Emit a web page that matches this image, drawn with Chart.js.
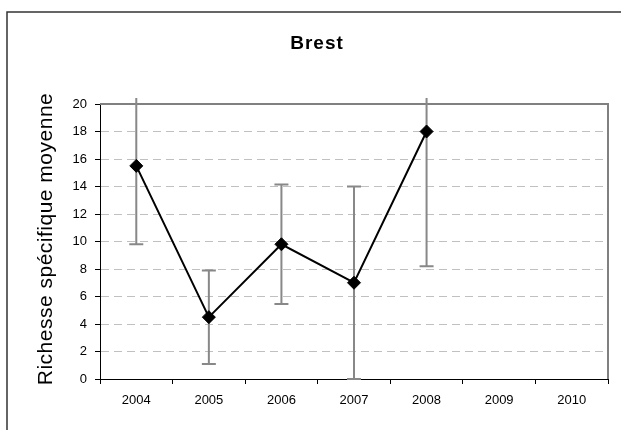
<!DOCTYPE html>
<html lang="fr">
<head>
<meta charset="UTF-8">
<title>Brest</title>
<script src="https://cdn.jsdelivr.net/npm/chart.js"></script>
<style>
  html, body { margin: 0; padding: 0; background: #fff; }
  #wrap { width: 621px; height: 430px; }
</style>
</head>
<body>
<div id="wrap"><canvas id="chart" width="621" height="430"></canvas></div>
<script>
// data
const years = ['2004', '2005', '2006', '2007', '2008', '2009', '2010'];
const richesse = [15.5, 4.5, 9.8, 7.0, 18.0, null, null];
const ecart = [5.7, 3.4, 4.35, 7.0, 9.8, null, null];
const yMin = 0, yMax = 20, yStep = 2;

const FONT = '"Liberation Sans", Arial, sans-serif';

// outer frame + grey top/right border of the plot area
const framePlugin = {
    id: 'frame',
    beforeDraw(chart) {
        const ctx = chart.ctx;
        ctx.save();
        ctx.strokeStyle = '#333';
        ctx.lineWidth = 1.5;
        ctx.beginPath();
        ctx.moveTo(7, 430);
        ctx.lineTo(7, 12);
        ctx.lineTo(621, 12);
        ctx.stroke();
        ctx.restore();
    },
    beforeDatasetsDraw(chart) {
        const a = chart.chartArea, ctx = chart.ctx;
        ctx.save();
        ctx.strokeStyle = '#808080';
        ctx.lineWidth = 2;
        ctx.beginPath();
        ctx.moveTo(a.left, a.top);
        ctx.lineTo(a.right, a.top);
        ctx.lineTo(a.right, a.bottom);
        ctx.stroke();
        ctx.restore();
    }
};

// vertical error bars, clipped a little above the plot like the original
const errorBarPlugin = {
    id: 'errorBars',
    beforeDatasetsDraw(chart) {
        const ctx = chart.ctx, a = chart.chartArea;
        const xs = chart.scales.x, ys = chart.scales.y;
        ctx.save();
        ctx.strokeStyle = '#888';
        ctx.lineWidth = 2;
        richesse.forEach((v, i) => {
            if (v === null || ecart[i] === null) return;
            const x = xs.getPixelForValue(i);
            let yHi = ys.getPixelForValue(v + ecart[i]);
            let yLo = ys.getPixelForValue(Math.max(v - ecart[i], yMin));
            const capHi = yHi >= a.top - 6;
            if (!capHi) yHi = a.top - 6;
            ctx.beginPath();
            ctx.moveTo(x, yHi);
            ctx.lineTo(x, yLo);
            ctx.moveTo(x - 7, yLo);
            ctx.lineTo(x + 7, yLo);
            if (capHi) {
                ctx.moveTo(x - 7, yHi);
                ctx.lineTo(x + 7, yHi);
            }
            ctx.stroke();
        });
        ctx.restore();
    }
};

// chart title and vertical axis title
const titlesPlugin = {
    id: 'titles',
    afterDraw(chart) {
        const ctx = chart.ctx;
        ctx.save();
        ctx.fillStyle = '#000';
        ctx.textAlign = 'center';
        ctx.textBaseline = 'middle';
        ctx.font = 'bold 19px ' + FONT;
        ctx.letterSpacing = '1px';
        ctx.fillText('Brest', 317, 44);
        ctx.translate(46, 239);
        ctx.rotate(-Math.PI / 2);
        ctx.font = '21px ' + FONT;
        ctx.letterSpacing = '0.5px';
        ctx.fillText('Richesse spécifique moyenne', 0, 0);
        ctx.restore();
    }
};

new Chart(document.getElementById('chart'), {
    type: 'line',
    data: {
        labels: years,
        datasets: [{
            data: richesse,
            borderColor: '#000',
            borderWidth: 2,
            backgroundColor: '#000',
            pointStyle: 'rectRot',
            pointRadius: 6.5,
            pointBackgroundColor: '#000',
            pointBorderColor: '#000',
            pointBorderWidth: 1,
            tension: 0,
            spanGaps: false,
            clip: false
        }]
    },
    options: {
        responsive: false,
        animation: false,
        layout: { padding: { top: 104, right: 13, left: 0, bottom: 0 } },
        plugins: {
            legend: { display: false },
            tooltip: { enabled: false },
            title: { display: false }
        },
        scales: {
            x: {
                offset: true,
                grid: { offset: true, drawOnChartArea: false, drawTicks: true, tickLength: 5, color: '#000' },
                border: { color: '#000', width: 1 },
                ticks: { color: '#000', font: { family: FONT, size: 13 }, padding: 9, maxRotation: 0, autoSkip: false },
                afterFit(scale) { scale.height = 51; }
            },
            y: {
                min: yMin,
                max: yMax,
                grid: {
                    color: c => (c.tick.value === yMin || c.tick.value === yMax) ? 'rgba(0,0,0,0)' : '#c0c0c0',
                    tickColor: '#000',
                    tickLength: 5,
                    lineWidth: 1
                },
                border: { color: '#000', width: 1, dash: [8, 5] },
                ticks: { stepSize: yStep, color: '#000', font: { family: FONT, size: 13 }, padding: 8 },
                afterFit(scale) { scale.width = 100; }
            }
        }
    },
    plugins: [framePlugin, errorBarPlugin, titlesPlugin]
});
</script>
</body>
</html>
